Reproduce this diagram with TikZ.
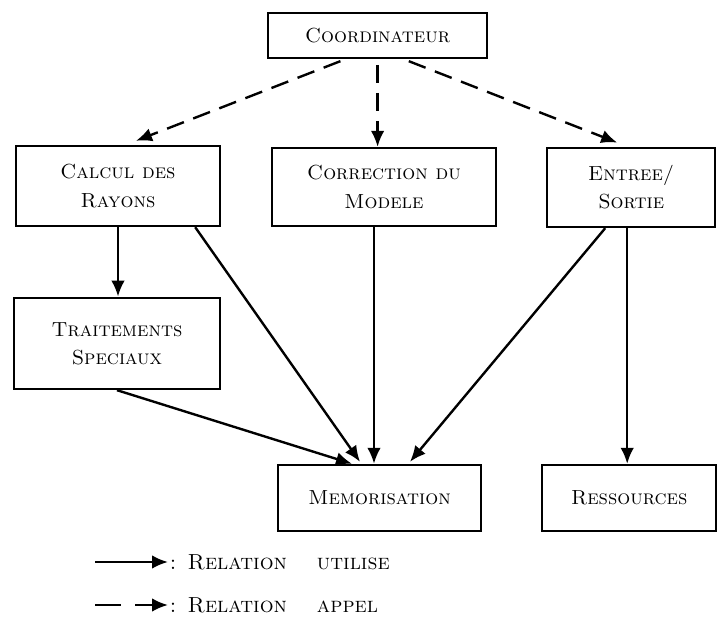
\documentclass[tikz,border=0pt]{standalone}
\usetikzlibrary{arrows.meta, positioning}
\tikzset{
  module/.style={draw, line width=1.7pt, align=center, inner sep=0pt,
    font=\fontsize{14.5}{20}\selectfont\scshape},
  legendtxt/.style={inner sep=1pt, font=\fontsize{15.5}{18}\selectfont\scshape},
  uses/.style={-{Latex[length=4mm,width=3.4mm]}, line width=1.7pt},
  calls/.style={uses, dash pattern=on 4.5mm off 2.5mm, shorten <=1.5mm}
}
\begin{document}
\begin{tikzpicture}
    \useasboundingbox (0,0) rectangle (17.975,15.625);
    \node[module, minimum width=5.48cm, minimum height=1.12cm] (coord) at (9.44,14.74) {Coordinateur};
    \node[module, minimum width=5.1cm, minimum height=2.0cm] (calcul) at (2.95,10.975) {Calcul des\\Rayons};
    \node[module, minimum width=5.6cm, minimum height=1.95cm] (correct) at (9.6,10.95) {Correction du\\Modele};
    \node[module, minimum width=4.2cm, minimum height=1.98cm] (entree) at (15.78,10.94) {Entree/\\Sortie};
    \node[module, minimum width=5.15cm, minimum height=2.28cm] (traite) at (2.925,7.04) {Traitements\\Speciaux};
    \node[module, minimum width=5.08cm, minimum height=1.65cm] (memo) at (9.49,3.175) {Memorisation};
    \node[module, minimum width=4.35cm, minimum height=1.65cm] (ressource) at (15.73,3.175) {Ressources};
    % appels du coordinateur
    \draw[calls] ([xshift=-0.79cm]coord.south) -- ([xshift=0.45cm, yshift=1mm]calcul.north);
    \draw[calls] (coord.south) -- (coord.south |- correct.north);
    \draw[calls] ([xshift=0.64cm]coord.south) -- ([xshift=-0.35cm, yshift=1mm]entree.north);
    % relations utilise
    \draw[uses] (calcul.south) -- (calcul.south |- traite.north);
    \draw[uses] ([xshift=1.93cm]calcul.south) -- ([xshift=-0.49cm, yshift=0.5mm]memo.north);
    \draw[uses] (traite.south) -- ([xshift=-0.69cm]memo.north);
    \draw[uses] ([xshift=-0.25cm]correct.south) -- ([xshift=-0.25cm]correct.south |- memo.north);
    \draw[uses] ([xshift=-0.65cm]entree.south) -- ([xshift=0.76cm, yshift=0.5mm]memo.north);
    \draw[uses] ([xshift=-0.1cm]entree.south) -- ([xshift=-0.1cm]entree.south |- ressource.north);
    % legende
    \coordinate (lguse) at (2.375,1.575);
    \node[legendtxt, anchor=west] (lgusetxt) at (4.2,1.575) {: Relation \quad utilise};
    \draw[uses] (lguse) -- (lgusetxt.west);
    \coordinate (lgcall) at (2.375,0.5);
    \node[legendtxt, anchor=west] (lgcalltxt) at (4.2,0.5) {: Relation \quad appel};
    \draw[uses, dash pattern=on 6.5mm off 3.5mm] (lgcall) -- (lgcalltxt.west);
\end{tikzpicture}
\end{document}
